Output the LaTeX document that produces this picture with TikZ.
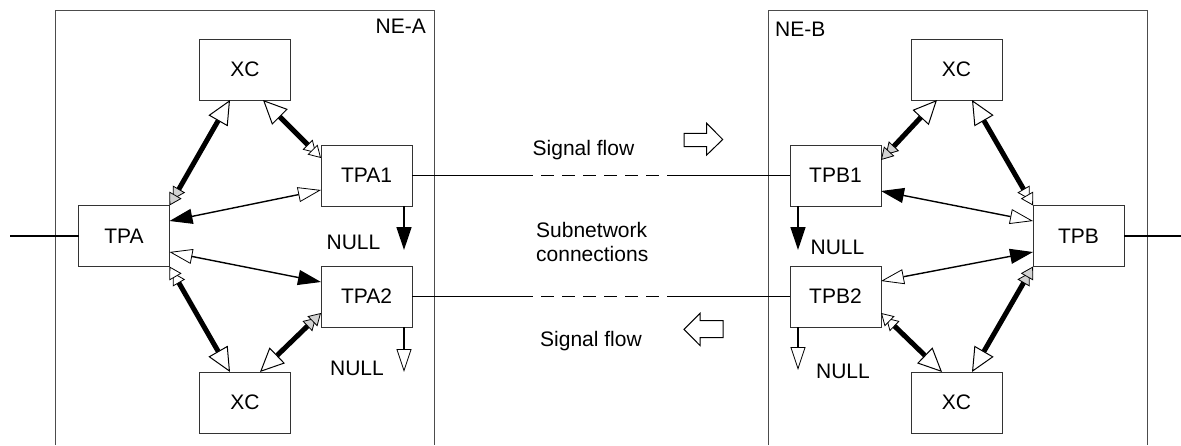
\documentclass[tikz,border=0pt]{standalone}
\usepackage{fontspec}
\setmainfont{Liberation Sans}
\usetikzlibrary{arrows.meta,positioning}

\begin{document}
\begin{tikzpicture}[x=1pt, y=-1pt,
  box/.style={draw=black!80, line width=1pt, minimum width=91pt, minimum height=61pt,
              inner sep=0pt, outer sep=0pt, font=\fontsize{21}{24}\selectfont},
  lbl/.style={inner sep=0pt, font=\fontsize{21}{24}\selectfont, align=left},
  frame/.style={draw=black!70, line width=1pt},
  wire/.style={line width=1.8pt},
  link/.style={line width=5pt},
  sig/.style={line width=1.4pt},
  flow/.style={draw, line width=1pt, fill=white, line join=miter},
  snc/.style={wire, dash pattern=on 121pt off 8pt on 13pt off 8pt on 13pt off 8pt on 13pt
              off 8pt on 13pt off 8pt on 13pt off 8pt on 13pt off 8pt on 200pt},
  xcTip/.tip={Triangle[fill=white, length=24pt, width=22pt, line width=1pt]},
  tpWhite/.tip={Triangle[fill=white, length=12pt, width=14pt, line width=0.8pt, sep=-5pt]
                Triangle[fill=white, length=12pt, width=14pt, line width=0.8pt]},
  tpGray/.tip={Triangle[fill=gray!35, length=12pt, width=14pt, line width=0.8pt, sep=-5pt]
               Triangle[fill=gray!35, length=12pt, width=14pt, line width=0.8pt]},
  sigBlack/.tip={Triangle[length=23pt, width=15pt]},
  sigOpen/.tip={Triangle[fill=white, length=23pt, width=15pt, line width=0.8pt]}
]
  \useasboundingbox (0,0) rectangle (1181,445);

  % network elements
  \draw[frame] (55,445) |- (434,10) -- (434,445);
  \draw[frame] (768,445) |- (1147,10) -- (1147,445);
  \node[lbl, anchor=east] (labA) at (426,26.7) {NE-A};
  \node[lbl, anchor=west] (labB) at (775,29.7) {NE-B};

  % NE-A
  \node[box] (xcA1) at (245,69.5)    {XC};
  \node[box] (tpa1) at (366.5,175.5) {TPA1};
  \node[box] (tpa)  at (124,236)     {TPA};
  \node[box] (tpa2) at (366.5,296.5) {TPA2};
  \node[box] (xcA2) at (245,402.5)   {XC};

  % NE-B
  \node[box] (xcB1) at (956.5,69.5)   {XC};
  \node[box] (tpb1) at (835.5,175.5)  {TPB1};
  \node[box] (tpb)  at (1078.5,236)   {TPB};
  \node[box] (tpb2) at (835.5,296.5)  {TPB2};
  \node[box] (xcB2) at (956.5,402.5)  {XC};

  % external lines
  \coordinate (extL) at (10,236);
  \coordinate (extR) at (1181,236);
  \draw[wire] (extL) -- (tpa);
  \draw[wire] (tpb) -- (extR);

  % subnetwork connections
  \draw[snc] (tpa1.east) -- (tpb1.west);
  \draw[snc] (tpa2.east) -- (tpb2.west);

  % cross-connections NE-A
  \draw[link, {tpGray}-{xcTip}]  (tpa.north east) -- ([xshift=-15pt]xcA1.south);
  \draw[link, {tpWhite}-{xcTip}] ([yshift=-13pt]tpa1.north west) -- ([xshift=18pt]xcA1.south);
  \draw[sig, {sigOpen}-{sigBlack}] ([yshift=-14.5pt]tpa1.west) -- ([yshift=15pt]tpa.east);
  \draw[sig, {sigOpen}-{sigBlack}] ([yshift=-16pt]tpa.east) -- ([yshift=14.5pt]tpa2.west);
  \draw[link, {tpWhite}-{xcTip}] (tpa.south east) -- ([xshift=-15pt]xcA2.north);
  \draw[link, {tpGray}-{xcTip}]  ([yshift=14pt]tpa2.south west) -- ([xshift=15pt]xcA2.north);

  % cross-connections NE-B
  \draw[link, {tpGray}-{xcTip}]  ([yshift=-15pt]tpb1.north east) -- ([xshift=-19.5pt]xcB1.south);
  \draw[link, {tpWhite}-{xcTip}] (tpb.north west) -- ([xshift=15.5pt]xcB1.south);
  \draw[sig, {sigOpen}-{sigBlack}] ([yshift=15pt]tpb.west) -- ([yshift=-15.5pt]tpb1.east);
  \draw[sig, {sigOpen}-{sigBlack}] ([yshift=15.5pt]tpb2.east) -- ([yshift=-16pt]tpb.west);
  \draw[link, {tpWhite}-{xcTip}] ([yshift=14pt]tpb2.south east) -- ([xshift=-14.5pt]xcB2.north);
  \draw[link, {tpGray}-{xcTip}]  (tpb.south west) -- ([xshift=15.5pt]xcB2.north);

  % unused terminations
  \coordinate (nullA1) at (404,250);
  \coordinate (nullA2) at (404,372);
  \coordinate (nullB1) at (798,250);
  \coordinate (nullB2) at (798,370);
  \draw[sig, -{sigBlack}] ([xshift=37.5pt]tpa1.south) -- (nullA1);
  \draw[sig, -{sigOpen}]  ([xshift=37.5pt]tpa2.south) -- (nullA2);
  \draw[sig, -{sigBlack}] ([xshift=-37.5pt]tpb1.south) -- (nullB1);
  \draw[sig, -{sigOpen}]  ([xshift=-37.5pt]tpb2.south) -- (nullB2);
  \node[lbl] (txtA1) at (353.5,242.5) {NULL};
  \node[lbl] (txtA2) at (357,368.5)   {NULL};
  \node[lbl] (txtB1) at (837.5,247.5) {NULL};
  \node[lbl] (txtB2) at (843,371)     {NULL};

  % signal flow
  \node[lbl, anchor=base] (sigTop) at (583.5,155.5) {Signal flow};
  \node[lbl, anchor=west] (sncTxt) at (536,242) {Subnetwork\\connections};
  \node[lbl, anchor=base] (sigBot) at (591,346.5) {Signal flow};
  \draw[flow] (684,133.3) -- (706.7,133.3) -- (706.7,123.3) -- (722.7,139.5)
    -- (706.7,155) -- (706.7,146.7) -- (684,146.7) -- cycle;
  \draw[flow] (723,320.7) -- (700,320.7) -- (700,313.3) -- (684,329.3)
    -- (700,345.5) -- (700,337.5) -- (723,337.5) -- cycle;
\end{tikzpicture}
\end{document}
